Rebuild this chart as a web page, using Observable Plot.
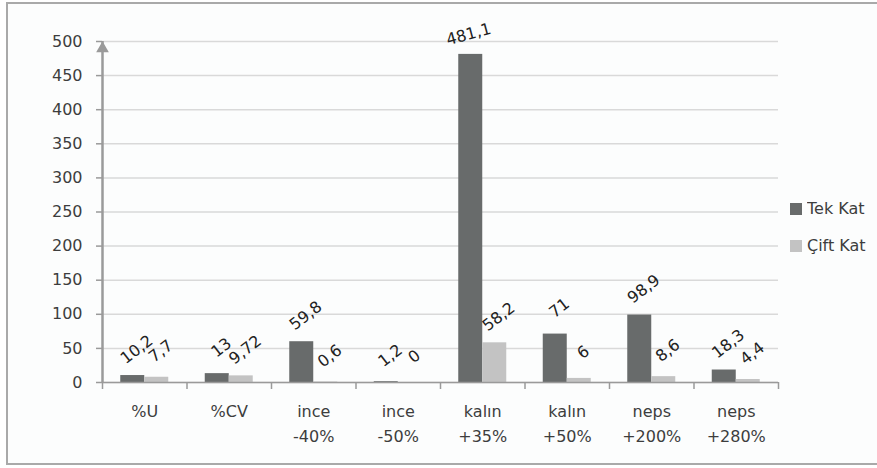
<!DOCTYPE html>
<html>
<head>
<meta charset="utf-8">
<script src="https://cdn.jsdelivr.net/npm/d3@7"></script>
<script src="https://cdn.jsdelivr.net/npm/@observablehq/plot@0.6"></script>
<style>
  html, body { margin: 0; padding: 0; background: #fff; overflow: hidden; }
  #wrap { position: relative; width: 877px; height: 468px; }
  #frame {
    position: absolute; left: 6px; top: 2px; width: 900px; height: 463px;
    box-sizing: border-box; border: 2px solid #a9a9a9; background: #fcfdfd;
  }
  #chart { position: absolute; left: 0; top: 0; }
  #legend { position: absolute; left: 790px; top: 199px; }
  .lg { font-family: "DejaVu Sans", sans-serif !important; font-size: 16px !important; color: #3d3d3d !important; }
  .lg-swatch { margin-bottom: 17px !important; font-size: 16px !important; }
  .lg-swatch svg { margin-right: 5px !important; }
</style>
</head>
<body>
<div id="wrap">
  <div id="frame"></div>
  <div id="chart"></div>
  <div id="legend"></div>
</div>
<script>
// Measurements per category, two yarn types
const categories = ["%U", "%CV", "ince\n-40%", "ince\n-50%", "kalın\n+35%", "kalın\n+50%", "neps\n+200%", "neps\n+280%"];
const series = ["Tek Kat", "Çift Kat"];
const tekKat = [10.2, 13, 59.8, 1.2, 481.1, 71, 98.9, 18.3];
const ciftKat = [7.7, 9.72, 0.6, 0, 58.2, 6, 8.6, 4.4];
const yTicks = [0, 50, 100, 150, 200, 250, 300, 350, 400, 450, 500];

const colors = ["#686b6b", "#c3c3c3"];
const barWidth = 0.284; // share of one category slot taken by each bar

// one row per bar; Tek Kat sits left of the slot centre, Çift Kat right of it
const rows = [];
categories.forEach((c, i) => {
  rows.push({i, series: series[0], value: tekKat[i], x1: i + 0.5 - barWidth, x2: i + 0.5});
  rows.push({i, series: series[1], value: ciftKat[i], x1: i + 0.5, x2: i + 0.5 + barWidth});
});
const fmt = v => String(v).replace(".", ",");
const axisGrey = "#9a9a9a";
const tall = d => d.value > 400; // label near the top edge is tilted less

const labelOpts = {
  x: d => (d.x1 + d.x2) / 2, y: "value", text: d => fmt(d.value),
  fontSize: 16, fill: "#222"
};

const plot = Plot.plot({
  width: 877,
  height: 468,
  marginLeft: 102,
  marginRight: 99,
  marginTop: 41,
  marginBottom: 86,
  style: {fontFamily: "DejaVu Sans, sans-serif", fontSize: "16px", color: "#3d3d3d", background: "transparent", overflow: "visible"},
  x: {type: "linear", domain: [0, categories.length]},
  y: {domain: [0, 500]},
  color: {domain: series, range: colors},
  marks: [
    Plot.gridY(yTicks, {stroke: "#d9d9d9", strokeOpacity: 1, strokeWidth: 1.5}),
    Plot.rectY(rows, {x1: "x1", x2: "x2", y: "value", fill: "series"}),
    Plot.ruleY([0], {stroke: axisGrey, strokeWidth: 1.5}),
    Plot.axisY(yTicks, {tickSize: 6, tickPadding: 14, stroke: axisGrey, strokeWidth: 1.5, label: null, fontSize: 16}),
    Plot.ruleX([0], {y1: 0, y2: 500, stroke: axisGrey, strokeWidth: 2.5}),
    Plot.dot([{x: 0, y: 500}], {x: "x", y: "y", symbol: "triangle", r: 4.7, fill: axisGrey, stroke: null, dy: 7}),
    // slot boundaries below the baseline
    Plot.axisX(d3.range(categories.length + 1), {tickSize: 7, stroke: axisGrey, strokeWidth: 1.5, tickFormat: () => "", label: null}),
    // category names, centred in each slot
    Plot.axisX(categories.map((c, i) => i + 0.5), {
      tickSize: 0, tickPadding: 17, label: null, fontSize: 16, lineHeight: 1.55,
      tickFormat: d => categories[Math.floor(d)]
    }),
    // value labels
    Plot.text(rows, {...labelOpts, filter: d => !tall(d), rotate: -38, dx: 4, dy: -26}),
    Plot.text(rows, {...labelOpts, filter: tall, rotate: -15, dx: -2, dy: -20})
  ]
});
document.getElementById("chart").append(plot);

const legend = plot.legend("color", {
  swatchSize: 12, columns: 1, className: "lg",
  style: {fontFamily: "DejaVu Sans, sans-serif", fontSize: "16px", color: "#3d3d3d"}
});
document.getElementById("legend").append(legend);
</script>
</body>
</html>
